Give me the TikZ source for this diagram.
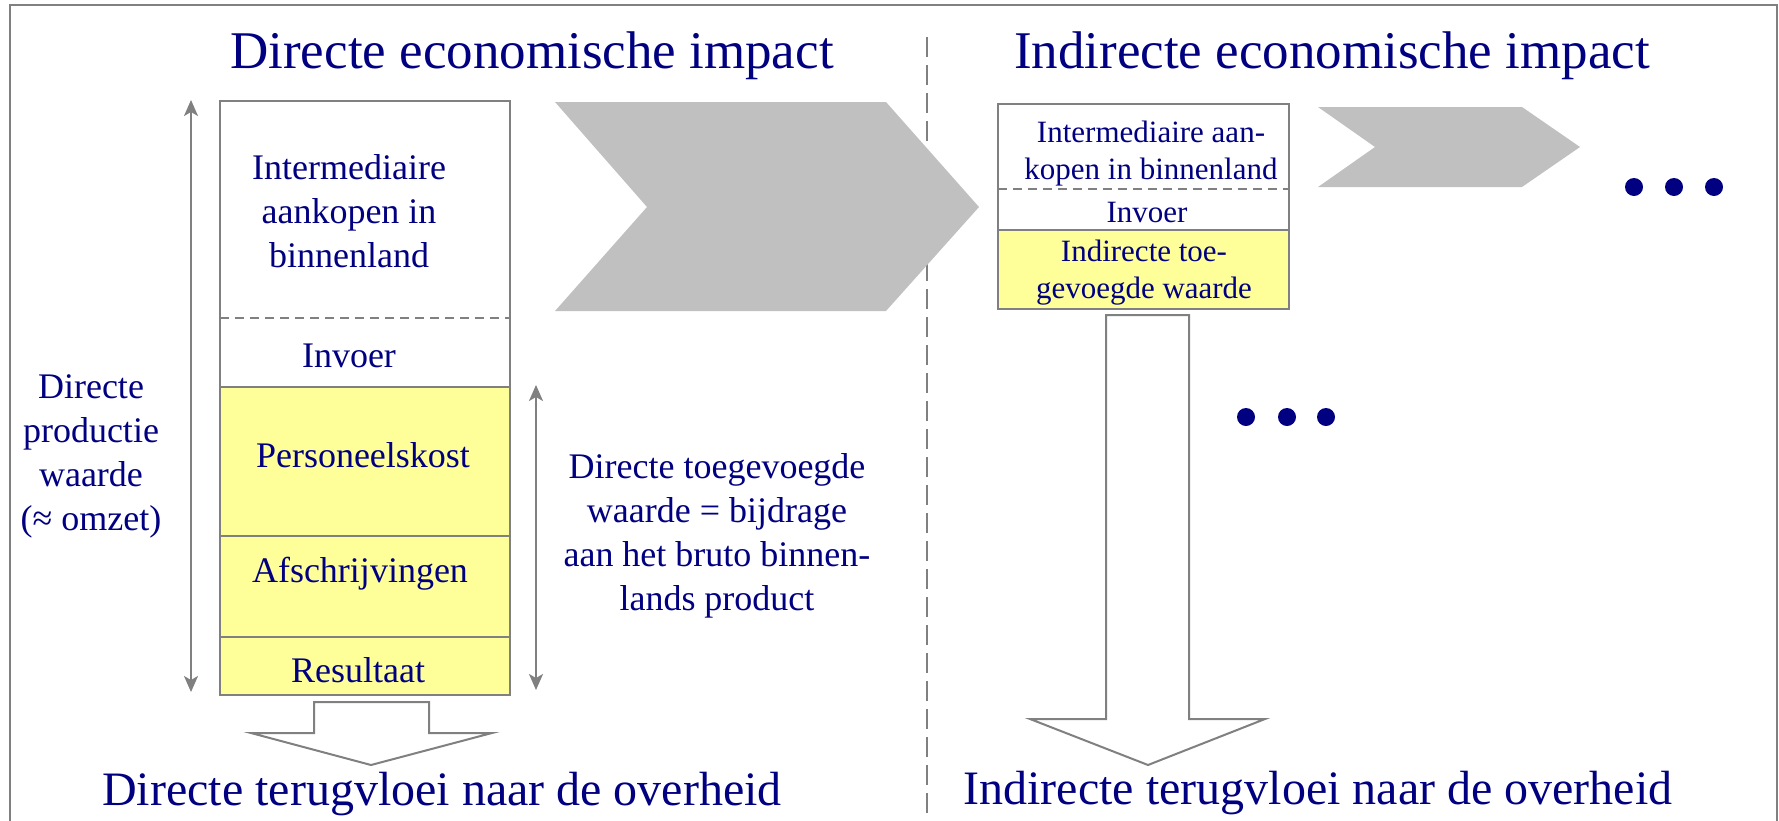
\documentclass[tikz,border=0pt]{standalone}
\usepackage{fontspec}
\setmainfont{Liberation Serif}
\usetikzlibrary{arrows.meta}

\definecolor{impactblue}{RGB}{0,0,128}
\definecolor{linegray}{RGB}{128,128,128}
\definecolor{chevgray}{RGB}{192,192,192}
\definecolor{valueyellow}{RGB}{255,255,153}

\tikzset{
  headtext/.style={anchor=base, inner sep=0pt, text=impactblue, font=\fontsize{26.5}{32}\selectfont},
  foottext/.style={anchor=base, inner sep=0pt, text=impactblue, font=\fontsize{24}{29}\selectfont},
  celltext/.style={inner sep=0pt, align=center, text=impactblue, font=\fontsize{18}{22}\selectfont},
  smalltext/.style={inner sep=0pt, align=center, text=impactblue, font=\fontsize{15.5}{18.5}\selectfont},
  cellbox/.style={draw=linegray, line width=1.2pt},
  celldash/.style={linegray, line width=1.1pt, dash pattern=on 4.5pt off 3pt},
  blockarrow/.style={draw=linegray, fill=white, line width=1pt},
  chevron/.style={fill=chevgray},
  span/.style={linegray, line width=1pt, {Stealth[length=8pt,width=7pt,inset=2pt]}-{Stealth[length=8pt,width=7pt,inset=2pt]}},
  dots/.style={fill=impactblue}
}

\begin{document}
\begin{tikzpicture}[x=0.5pt,y=-0.5pt]
  \useasboundingbox (0,0) rectangle (1779,820);
  \clip (0,0) rectangle (1779,820);
  \draw[linegray, line width=1.3pt] (10,5) rectangle (1777,850); % frame
  \draw[linegray, line width=1pt, dash pattern=on 10pt off 4pt] (927,37) -- (927,850); % divider

  % direct impact
  \node[headtext] (dtitle) at (532,68) {Directe economische impact};
  \draw[cellbox, fill=white] (220,101) rectangle (510,387); % purchases + imports
  \draw[celldash] (220,318) -- (510,318);
  \draw[cellbox, fill=valueyellow] (220,387) rectangle (510,536); % staff
  \draw[cellbox, fill=valueyellow] (220,536) rectangle (510,637); % depreciation
  \draw[cellbox, fill=valueyellow] (220,637) rectangle (510,695); % result
  \node[celltext] (dpurch) at (349,211) {Intermediaire\\aankopen in\\binnenland};
  \node[celltext, anchor=base] (dimport) at (349,367) {Invoer};
  \node[celltext, anchor=base] (dstaff) at (363,467) {Personeelskost};
  \node[celltext, anchor=base] (ddepr) at (360,582) {Afschrijvingen};
  \node[celltext, anchor=base] (dresult) at (358,682) {Resultaat};

  \coordinate (pvtop) at (191,100);
  \coordinate (pvbot) at (191,692);
  \draw[span] (pvtop) -- (pvbot); % production value
  \node[celltext] (pvlabel) at (91,456) {Directe\\productie\\waarde\\(≈ omzet)};

  \coordinate (avtop) at (536,385);
  \coordinate (avbot) at (536,690);
  \draw[span] (avtop) -- (avbot); % added value
  \node[celltext] (avlabel) at (717,536) {Directe toegevoegde\\waarde = bijdrage\\aan het bruto binnen-\\lands product};

  \fill[chevron] (555,102) -- (886,102) -- (979,207) -- (886,311) -- (555,311) -- (647,207) -- cycle; % big chevron
  \draw[blockarrow] (314,702) -- (429,702) -- (429,733) -- (492,733) -- (371,765) -- (251,733) -- (314,733) -- cycle; % down arrow
  \node[foottext] (dfoot) at (442,805) {Directe terugvloei naar de overheid};

  % indirect impact
  \node[headtext] (ititle) at (1332,68) {Indirecte economische impact};
  \draw[cellbox, fill=white] (998,104) rectangle (1289,230);
  \draw[celldash] (998,189) -- (1289,189);
  \draw[cellbox, fill=valueyellow] (998,230) rectangle (1289,309);
  \node[smalltext] (ipurch) at (1151,154) {Intermediaire aan-\\kopen in binnenland};
  \node[smalltext, anchor=base] (iimport) at (1147,222) {Invoer};
  \node[smalltext] (ivalue) at (1144,273) {Indirecte toe-\\gevoegde waarde};

  \fill[chevron] (1318,107) -- (1522,107) -- (1580,147) -- (1522,187) -- (1318,187) -- (1375,147) -- cycle; % small chevron
  \fill[dots] (1634,187) circle (4.5pt); % dots right
  \fill[dots] (1674,187) circle (4.5pt);
  \fill[dots] (1714,187) circle (4.5pt);

  \draw[blockarrow] (1106,315) -- (1189,315) -- (1189,719) -- (1265,719) -- (1148,765) -- (1030,719) -- (1106,719) -- cycle; % long down arrow
  \fill[dots] (1246,417) circle (4.5pt); % dots middle
  \fill[dots] (1287,417) circle (4.5pt);
  \fill[dots] (1326,417) circle (4.5pt);
  \node[foottext] (ifoot) at (1318,804) {Indirecte terugvloei naar de overheid};
\end{tikzpicture}
\end{document}
